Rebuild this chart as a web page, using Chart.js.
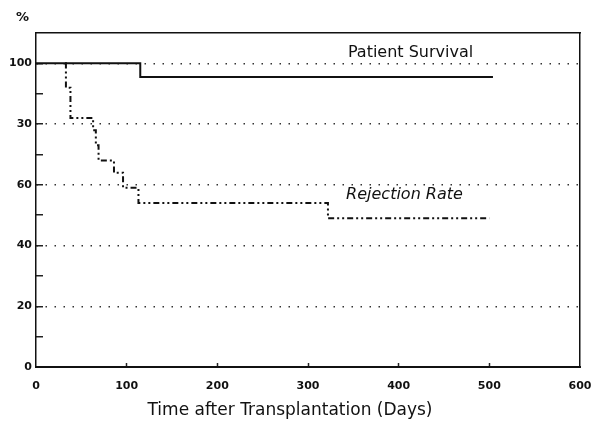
<!DOCTYPE html>
<html>
<head>
<meta charset="utf-8">
<script src="https://cdn.jsdelivr.net/npm/chart.js@4/dist/chart.umd.min.js"></script>
<style>
  body { margin: 0; background: #fff; }
</style>
</head>
<body>
<canvas id="myChart" width="600" height="425"></canvas>
<script>
// valores
const survivalDays = [0, 115, 504];
const survivalValues = [100, 95.5, 95.5];

const rejectionDays = [32, 33, 38, 63, 66, 69, 86, 96, 113, 322, 500];
const rejectionValues = [100, 92, 82, 78, 73, 68, 64, 59, 54, 49, 49];

const seriesNames = ['Patient Survival', 'Rejection Rate'];

const yTickValues = [0, 20, 40, 60, 80, 100];
const yTickLabels = ['0', '20', '40', '60', '30', '100'];
const xTickValues = [0, 100, 200, 300, 400, 500, 600];
const xTickLabels = ['0', '100', '200', '300', '400', '500', '600'];

const xTitle = 'Time after Transplantation (Days)';
const unitLabel = '%';

function toPoints(days, values) {
    return days.map((d, i) => ({x: d, y: values[i]}));
}

// textos sobre el grafico
const noteLabels = {
    id: 'noteLabels',
    afterDatasetsDraw(chart) {
        const {ctx, scales: {x, y}} = chart;
        ctx.save();
        ctx.fillStyle = '#111';
        ctx.textBaseline = 'middle';
        ctx.font = '16px "DejaVu Sans"';
        ctx.fillText(seriesNames[0], x.getPixelForValue(344), y.getPixelForValue(103.6));
        ctx.font = 'italic 16px "DejaVu Sans"';
        ctx.fillText(seriesNames[1], x.getPixelForValue(342), y.getPixelForValue(56.6));
        ctx.font = 'bold 13px "DejaVu Sans"';
        ctx.fillText(unitLabel, 16, 18);
        // titulo del eje x
        ctx.font = '17px "DejaVu Sans"';
        ctx.textAlign = 'center';
        ctx.fillText(xTitle, 290, 411);
        ctx.restore();
    }
};

const ctx = document.getElementById('myChart');

let myChart = new Chart(ctx, {
    type: 'line',
    data: {
        datasets: [{
            label: seriesNames[0],
            data: toPoints(survivalDays, survivalValues),
            borderColor: '#111',
            borderWidth: 2,
            stepped: true,
            pointRadius: 0,
            fill: false
        }, {
            label: seriesNames[1],
            data: toPoints(rejectionDays, rejectionValues),
            borderColor: '#111',
            borderWidth: 2,
            borderDash: [6, 3, 2, 3, 2, 3],
            stepped: true,
            pointRadius: 0,
            fill: false
        }]
    },
    plugins: [noteLabels],
    options: {
        responsive: false,
        animation: false,
        layout: { padding: 0 },
        plugins: {
            legend: { display: false },
            tooltip: { enabled: false }
        },
        scales: {
            x: {
                type: 'linear',
                position: 'bottom',
                min: 0,
                max: 600,
                afterBuildTicks: (s) => { s.ticks = xTickValues.map(v => ({value: v})); },
                afterFit: (s) => {
                    s.height = 58;
                    s.paddingLeft = 0;
                    s.paddingRight = 0;
                },
                ticks: {
                    padding: 17,
                    color: '#111',
                    font: { family: 'DejaVu Sans', size: 11, weight: 'bold' },
                    callback: (v) => xTickLabels[xTickValues.indexOf(v)]
                },
                grid: {
                    color: 'rgba(0,0,0,0)',
                    tickLength: -4,
                    tickWidth: 1.5,
                    tickColor: (c) => (c.tick.value > 0 && c.tick.value < 600) ? '#222' : 'rgba(0,0,0,0)'
                },
                border: { color: '#111', width: 2 }
            },
            x2: {
                type: 'linear',
                position: 'top',
                min: 0,
                max: 600,
                afterFit: (s) => { s.height = 33; },
                ticks: { display: false },
                grid: { display: false },
                border: { color: '#111', width: 1.5 }
            },
            y: {
                type: 'linear',
                position: 'left',
                min: 0,
                max: 110,
                afterFit: (s) => { s.width = 36; },
                ticks: {
                    stepSize: 10,
                    padding: 11,
                    color: '#111',
                    font: { family: 'DejaVu Sans', size: 11, weight: 'bold' },
                    callback: (v) => {
                        let i = yTickValues.indexOf(v);
                        return i >= 0 ? yTickLabels[i] : '';
                    }
                },
                grid: {
                    color: (c) => (c.tick.value > 0 && c.tick.value <= 100 && c.tick.value % 20 === 0) ? '#333' : 'rgba(0,0,0,0)',
                    lineWidth: 1.5,
                    tickLength: -7,
                    tickWidth: 1.5,
                    tickColor: (c) => (c.tick.value > 0 && c.tick.value <= 100) ? '#222' : 'rgba(0,0,0,0)'
                },
                border: { color: '#111', width: 1.5, dash: [1.5, 7.5] }
            },
            y2: {
                type: 'linear',
                position: 'right',
                min: 0,
                max: 110,
                afterFit: (s) => { s.width = 20; },
                ticks: { display: false },
                grid: { display: false },
                border: { color: '#111', width: 1.5 }
            }
        }
    }
});
</script>
</body>
</html>
